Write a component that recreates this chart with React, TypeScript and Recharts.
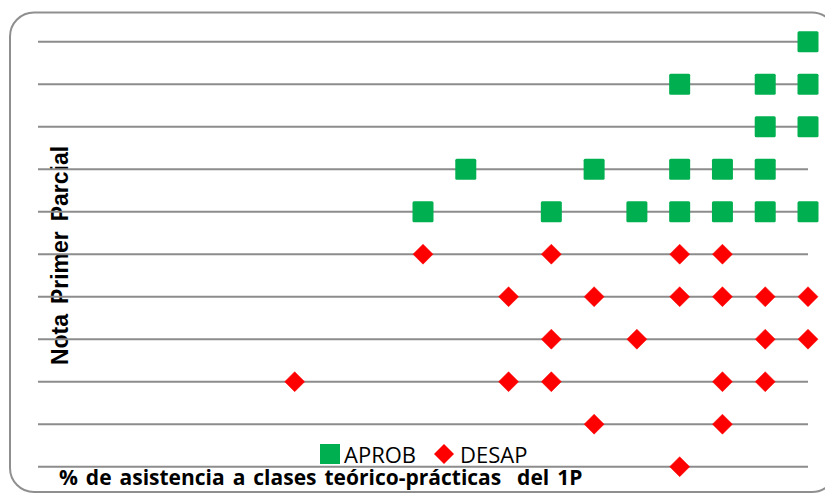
import React from 'react';
import { ScatterChart, Scatter, XAxis, YAxis, ReferenceLine, Legend, Customized } from 'recharts';

// Attendance (classes attended, 0-18) and grade (0-10) for each student
const aprobX = [18, 15, 17, 18, 17, 18, 10, 13, 15, 16, 17, 9, 12, 14, 15, 16, 17, 18];
const aprobY = [10, 9, 9, 9, 8, 8, 7, 7, 7, 7, 7, 6, 6, 6, 6, 6, 6, 6];
const desapX = [9, 12, 15, 16, 11, 13, 15, 16, 17, 18, 12, 14, 17, 18, 6, 11, 12, 16, 17, 13, 16, 15];
const desapY = [5, 5, 5, 5, 4, 4, 4, 4, 4, 4, 3, 3, 3, 3, 2, 2, 2, 2, 2, 1, 1, 0];
const yTicks = [0, 1, 2, 3, 4, 5, 6, 7, 8, 9, 10];
const xDomain = [0, 18];
const yDomain = [0, 10];

const seriesNames = ['APROB', 'DESAP'];
const yLabel = 'Nota Primer Parcial';
const xLabel = '% de asistencia a clases teórico-prácticas  del 1P';

const GREEN = '#00B050';
const RED = '#FF0000';

const aprobData = aprobX.map((x, i) => ({ x, y: aprobY[i] }));
const desapData = desapX.map((x, i) => ({ x, y: desapY[i] }));

const SquareShape = (props: any) => {
  const { cx, cy } = props;
  if (cx == null || cy == null) return null;
  const s = 21;
  return <rect x={cx - s / 2} y={cy - s / 2} width={s} height={s} rx={1.5} fill={GREEN} />;
};

const DiamondShape = (props: any) => {
  const { cx, cy } = props;
  if (cx == null || cy == null) return null;
  const r = 10;
  return (
    <polygon
      points={`${cx},${cy - r} ${cx + r},${cy} ${cx},${cy + r} ${cx - r},${cy}`}
      fill={RED}
      stroke={RED}
      strokeWidth={0.5}
      strokeLinejoin="round"
    />
  );
};

const Frame = () => (
  <g>
    <rect x={10} y={12.5} width={826} height={479.5} rx={24} ry={24} fill="none" stroke="#8f8f8f" strokeWidth={2} />
    <text
      x={67.5}
      y={255.5}
      transform="rotate(-90 67.5 255.5)"
      textAnchor="middle"
      fontFamily="'Liberation Sans', Arial, sans-serif"
      fontWeight="bold"
      fontSize={23}
      wordSpacing={3.5}
      fill="#000"
    >
      {yLabel}
    </text>
    <text
      x={59}
      y={484.5}
      fontFamily="'Open Sans', sans-serif"
      fontWeight="bold"
      fontSize={21}
      wordSpacing={2.5}
      fill="#000"
      style={{ whiteSpace: 'pre' }}
    >
      {xLabel}
    </text>
  </g>
);

const LegendContent = () => (
  <div style={{ display: 'flex', alignItems: 'center', fontFamily: "'Open Sans', sans-serif", fontSize: 22, color: '#000', lineHeight: '22px', whiteSpace: 'nowrap' }}>
    <svg width={20} height={20} style={{ marginRight: 4 }}>
      <rect x={0} y={0} width={20} height={20} fill={GREEN} />
    </svg>
    <span style={{ marginRight: 18 }}>{seriesNames[0]}</span>
    <svg width={20} height={20} style={{ marginRight: 6 }}>
      <polygon points="10,0 20,10 10,20 0,10" fill={RED} />
    </svg>
    <span>{seriesNames[1]}</span>
  </div>
);

export default function App() {
  return (
    <div style={{ position: 'absolute', left: 0, top: 0, width: 825, height: 493, background: '#fff' }}>
      <ScatterChart width={825} height={493} margin={{ top: 41.7, right: 17, bottom: 26.3, left: 38 }}>
        <XAxis type="number" dataKey="x" domain={xDomain} height={0} tick={false} axisLine={false} tickLine={false} />
        <YAxis type="number" dataKey="y" domain={yDomain} ticks={yTicks} width={0} tick={false} axisLine={false} tickLine={false} />
        {yTicks.map((t) => (
          <ReferenceLine key={t} y={t} stroke="#8c8c8c" strokeWidth={2} />
        ))}
        <Customized component={Frame} />
        <Scatter name={seriesNames[0]} data={aprobData} fill={GREEN} shape={SquareShape} isAnimationActive={false} />
        <Scatter name={seriesNames[1]} data={desapData} fill={RED} shape={DiamondShape} isAnimationActive={false} />
        <Legend
          layout="horizontal"
          verticalAlign="middle"
          align="center"
          content={LegendContent}
          wrapperStyle={{ left: 320, top: 443, width: 260, height: 24 }}
        />
      </ScatterChart>
    </div>
  );
}
